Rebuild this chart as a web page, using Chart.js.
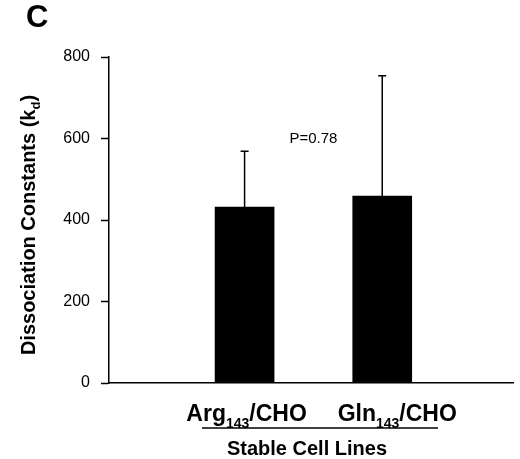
<!DOCTYPE html>
<html>
<head>
<meta charset="utf-8">
<script src="https://cdn.jsdelivr.net/npm/chart.js@4.4.0/dist/chart.umd.min.js"></script>
<style>
  body { margin: 0; background: #fff; }
  canvas { display: block; }
</style>
</head>
<body>
<canvas id="myChart" width="520" height="459"></canvas>
<script>
'use strict';

// <------------------ DATA ------------------>

let catBase = ['Arg', 'Gln'];
let catSub = ['143', '143'];
let catTail = ['/CHO', '/CHO'];
let catPos = [1, 2];

let meanKd = [432, 459];
let errKd = [137, 295];

let yTicks = [0, 200, 400, 600, 800];

let pText = 'P=0.78';
let pLevel = 600;


// <------------------ HELPERS ------------------>

let ctx = document.getElementById('myChart').getContext('2d');
let fontFam = '"Liberation Sans", Arial, Helvetica, sans-serif';

function subText(c, x, y, parts, align) {
  // parts: [[text, size, dy], ...] all bold
  let total = 0;
  for (let i = 0; i < parts.length; i++) {
    c.font = 'bold ' + parts[i][1] + 'px ' + fontFam;
    total += c.measureText(parts[i][0]).width;
  }
  let cx = align === 'center' ? x - total / 2 : x;
  c.textAlign = 'left';
  c.textBaseline = 'alphabetic';
  for (let i = 0; i < parts.length; i++) {
    c.font = 'bold ' + parts[i][1] + 'px ' + fontFam;
    c.fillText(parts[i][0], cx, y + parts[i][2]);
    cx += c.measureText(parts[i][0]).width;
  }
}


// <------------------ PLUGIN ------------------>

let extras = {
  id: 'extras',
  afterDatasetsDraw(chart, args, opts) {
    let c = chart.ctx;
    let xs = chart.scales.x;
    let ys = chart.scales.y;
    let area = chart.chartArea;
    c.save();
    c.fillStyle = '#000';
    c.strokeStyle = '#000';

    // error bars
    let meta = chart.getDatasetMeta(0);
    c.lineWidth = 1.5;
    meta.data.forEach(function (bar, i) {
      let top = ys.getPixelForValue(meanKd[i] + errKd[i]);
      c.beginPath();
      c.moveTo(bar.x, bar.y);
      c.lineTo(bar.x, top);
      c.moveTo(bar.x - 4, top);
      c.lineTo(bar.x + 4, top);
      c.stroke();
    });

    // p value
    c.font = '15px ' + fontFam;
    c.textAlign = 'center';
    c.textBaseline = 'middle';
    let px = (xs.getPixelForValue(catPos[0]) + xs.getPixelForValue(catPos[1])) / 2;
    c.fillText(pText, px, ys.getPixelForValue(pLevel));

    // category labels
    for (let i = 0; i < catBase.length; i++) {
      let lx = xs.getPixelForValue(catPos[i]) + opts.labelShift[i];
      subText(c, lx, area.bottom + 38, [
        [catBase[i], 23, 0],
        [catSub[i], 14, 7],
        [catTail[i], 23, 0]
      ], 'center');
    }

    // underline + axis title
    c.lineWidth = 1.3;
    c.beginPath();
    c.moveTo(202, area.bottom + 45);
    c.lineTo(438, area.bottom + 45);
    c.stroke();
    c.font = 'bold 20px ' + fontFam;
    c.textAlign = 'center';
    c.textBaseline = 'alphabetic';
    c.fillText('Stable Cell Lines', 307, area.bottom + 72);

    // y title, rotated
    c.translate(35, (area.top + area.bottom) / 2 + 5);
    c.rotate(-Math.PI / 2);
    subText(c, 0, 0, [
      ['Dissociation Constants (k', 20, 0],
      ['d', 13, 5],
      [')', 20, 0]
    ], 'center');
    c.setTransform(1, 0, 0, 1, 0, 0);

    // panel letter
    c.font = 'bold 31px ' + fontFam;
    c.textAlign = 'left';
    c.fillText('C', 26, 27);
    c.restore();
  }
};


// <------------------ CHART ------------------>

function renderChart() {
  let points = [];
  for (let i = 0; i < catPos.length; i++) {
    points.push({ x: catPos[i], y: meanKd[i] });
  }

  let myChartObj = {
    type: 'bar',
    data: {
      datasets: [{
        data: points,
        backgroundColor: '#000',
        borderWidth: 0,
        barThickness: 59
      }]
    },
    options: {
      responsive: false,
      animation: false,
      devicePixelRatio: 1,
      layout: { padding: { top: 57, right: 7, left: 0, bottom: 0 } },
      plugins: {
        legend: { display: false },
        tooltip: { enabled: false },
        extras: { labelShift: [2, 15] }
      },
      scales: {
        x: {
          type: 'linear',
          min: 0.015,
          max: 2.95,
          offset: false,
          grid: { display: false },
          ticks: { display: false },
          border: { display: true, color: '#000', width: 1.5 },
          afterFit: function (scale) { scale.height = 76; }
        },
        y: {
          min: 0,
          max: 800,
          afterBuildTicks: function (scale) {
            scale.ticks = yTicks.map(function (v) { return { value: v }; });
          },
          ticks: {
            color: '#000',
            padding: 8,
            font: { family: fontFam, size: 16 }
          },
          grid: {
            drawOnChartArea: false,
            tickLength: 11,
            tickColor: '#000',
            tickWidth: 1.5,
            tickBorderDash: [8, 3],
            tickBorderDashOffset: 8
          },
          border: { display: true, color: '#000', width: 1.5 },
          afterFit: function (scale) { scale.width = 109; }
        }
      }
    },
    plugins: [extras]
  };

  const myChart = new Chart(ctx, myChartObj);
}

renderChart();
</script>
</body>
</html>
